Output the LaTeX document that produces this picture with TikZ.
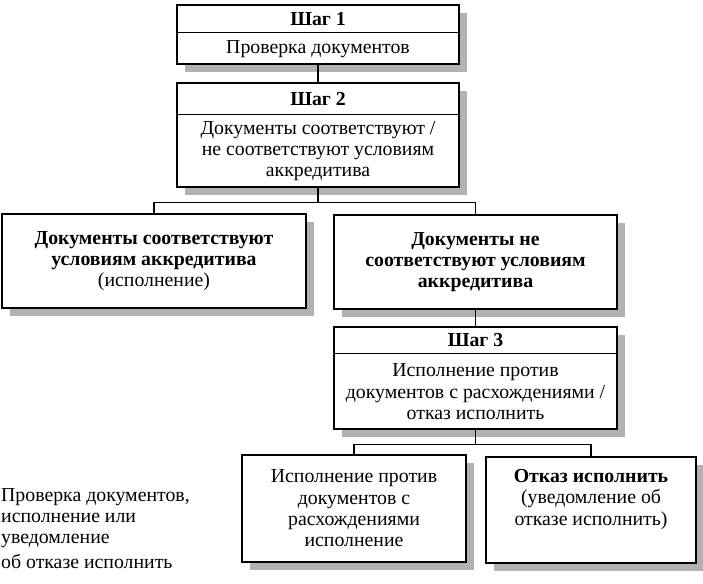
\documentclass[tikz,border=0pt]{standalone}
\usepackage{fontspec}
\setmainfont{Liberation Serif}
\usetikzlibrary{shadows, positioning}

\begin{document}
\begin{tikzpicture}[x=1pt, y=-1pt,
  font=\fontsize{19.8}{21.3}\selectfont,
  stepbox/.style={draw, line width=1.6pt, fill=white, align=center, inner sep=0pt,
    drop shadow={shadow xshift=8pt, shadow yshift=-8pt, fill=black!30, opacity=1}},
  headbox/.style={draw, line width=0.8pt, inner sep=0pt},
  bodytext/.style={align=center, inner sep=0pt},
  link/.style={line width=1.2pt}]
\useasboundingbox (0,0) rectangle (703,583);

% Step 1
\node[stepbox, minimum width=282pt, minimum height=59pt] (step1) at (318,34.5) {};
\node[headbox, minimum width=282pt, minimum height=28pt, below=0pt of step1.north] (step1h) {\textbf{Шаг 1}};
\node[bodytext, minimum height=31pt, below=0pt of step1h] (step1t) {Проверка документов};

% Step 2
\node[stepbox, minimum width=282pt, minimum height=104pt] (step2) at (318,135) {};
\node[headbox, minimum width=282pt, minimum height=32pt, below=0pt of step2.north] (step2h) {\textbf{Шаг 2}};
\node[bodytext, minimum height=72pt, below=0pt of step2h] (step2t) {Документы соответствуют /\\не соответствуют условиям\\аккредитива};

\draw[link] (step1.south) -- (step2.north);

% Two outcomes
\node[stepbox, minimum width=304pt, minimum height=94pt] (okbox) at (154,261)
  {\textbf{Документы соответствуют}\\\textbf{условиям аккредитива}\\(исполнение)};
\node[stepbox, minimum width=283pt, minimum height=94pt] (notokbox) at (475.5,262)
  {\textbf{Документы не}\\\textbf{соответствуют условиям}\\\textbf{аккредитива}};

\draw[link] (step2.south) -- ++(0,15) coordinate (fork1);
\draw[link] (fork1) -| (okbox.north);
\draw[link] (fork1) -| (notokbox.north);

% Step 3
\node[stepbox, minimum width=283pt, minimum height=102pt] (step3) at (475.5,378) {};
\node[headbox, minimum width=283pt, minimum height=27pt, below=0pt of step3.north] (step3h) {\textbf{Шаг 3}};
\node[bodytext, minimum height=75pt, below=0pt of step3h] (step3t) {Исполнение против\\документов с расхождениями /\\отказ исполнить};

\draw[link] (notokbox.south) -- (step3.north);

% Final outcomes
\node[stepbox, minimum width=224pt, minimum height=107pt] (paybox) at (354,508.5)
  {Исполнение против\\документов с\\расхождениями\\исполнение};
\node[stepbox, minimum width=210pt, minimum height=106pt] (refusebox) at (591,510)
  {\textbf{Отказ исполнить}\\(уведомление об\\отказе исполнить)\\[4pt]};

\draw[link] (step3.south) -- ++(0,15) coordinate (fork2);
\draw[link] (fork2) -| (paybox.north);
\draw[link] (fork2) -| (refusebox.north);

% Legend
\node[anchor=north west, align=left, inner sep=0pt] (legend) at (1,488)
  {Проверка документов,\\исполнение или\\уведомление\\[3pt]об отказе исполнить};
\end{tikzpicture}
\end{document}
